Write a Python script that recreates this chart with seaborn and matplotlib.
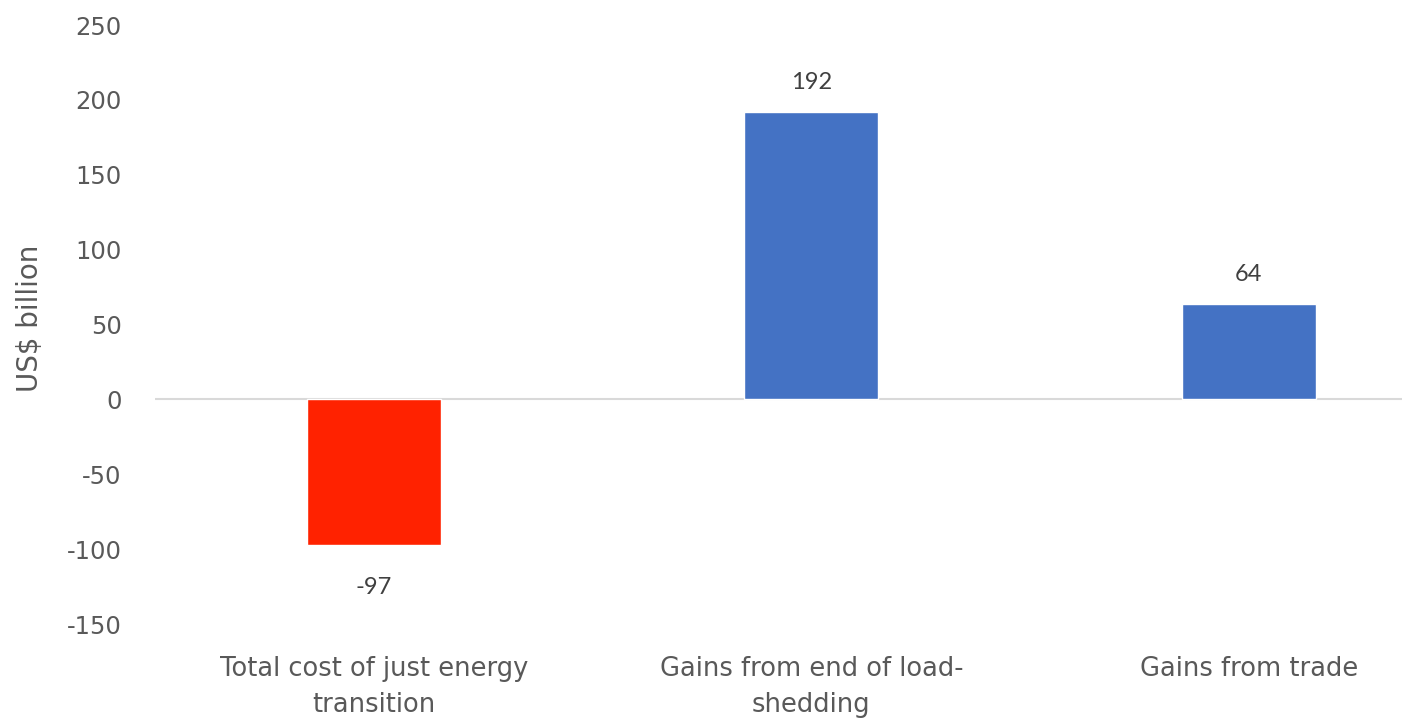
import matplotlib
matplotlib.use("Agg")
import matplotlib.pyplot as plt
import seaborn as sns
import pandas as pd

categories = ["Total cost of just energy\ntransition",
              "Gains from end of load-\nshedding",
              "Gains from trade"]
values = [-97, 192, 64]
bar_colors = ["#FF2200", "#4472C4", "#4472C4"]
y_ticks = [-150, -100, -50, 0, 50, 100, 150, 200, 250]

sns.set_theme(style="white")
plt.rcParams["font.family"] = ["DejaVu Sans"]

df = pd.DataFrame({"category": categories, "value": values})

fig = plt.figure(figsize=(14.02, 7.21), dpi=100)
ax = fig.add_axes([0.1106, 0.1345, 0.8894, 0.8308])

sns.barplot(data=df, x="category", y="value", hue="category",
            palette=bar_colors, width=0.306, legend=False, ax=ax,
            saturation=1)

ax.set_xlim(-0.5, 2.35)
ax.set_ylim(-150, 250)
ax.set_yticks(y_ticks)
ax.set_yticklabels([str(t) for t in y_ticks])

for s in ax.spines.values():
    s.set_visible(False)
ax.axhline(0, color="#d9d9d9", lw=1.5, zorder=0)

gray = "#595959"
ax.tick_params(axis="y", length=0, pad=24, labelsize=17.5, labelcolor=gray)
ax.tick_params(axis="x", length=0, pad=23, labelsize=18.5, labelcolor=gray)
for lbl in ax.get_xticklabels():
    lbl.set_linespacing(1.5)

ax.set_xlabel("")
ax.set_ylabel("US$ billion", fontsize=20, color=gray)
ax.yaxis.set_label_coords(-0.089, 0.51)

# value labels at the end of each bar
for i, v in enumerate(values):
    off = 21 if v >= 0 else -31
    ax.annotate(str(v), (i, v), xytext=(0, off), textcoords="offset points",
                ha="center", va="center", fontsize=17, color="#404040",
                family="Lato")

fig.savefig("out.png", dpi=100, facecolor="white")
